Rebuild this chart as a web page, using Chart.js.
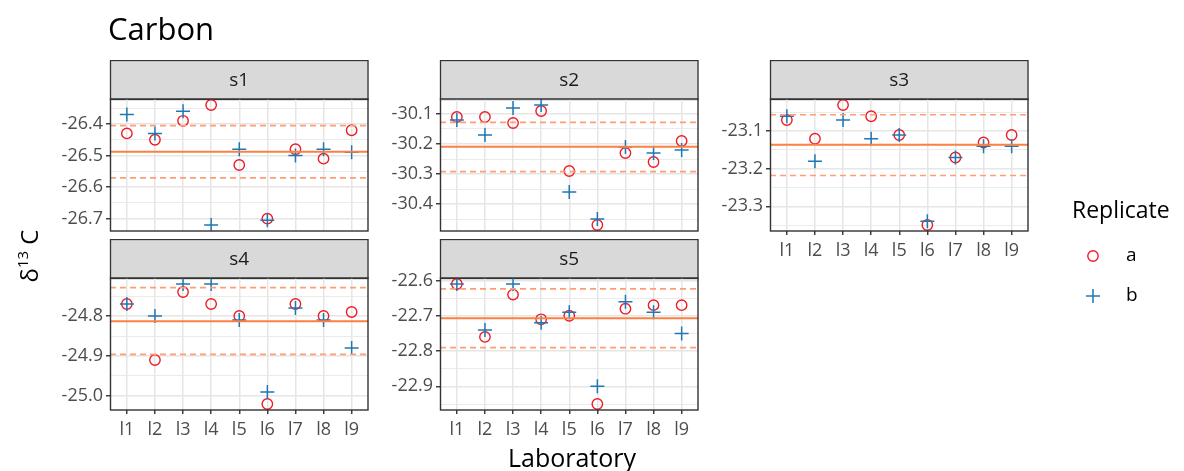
<!DOCTYPE html>
<html>
<head>
<meta charset="utf-8">
<script src="https://cdn.jsdelivr.net/npm/chart.js@4/dist/chart.umd.min.js"></script>
<style>
  body { margin: 0; background: #fff; width: 1184px; height: 471px; position: relative; overflow: hidden; }
  canvas { position: absolute; }
</style>
</head>
<body>
<canvas id="bg" width="1184" height="471" style="left:0;top:0"></canvas>
<script>
// laboratories on the x axis
const labs = ['l1', 'l2', 'l3', 'l4', 'l5', 'l6', 'l7', 'l8', 'l9'];
const samples = ['s1', 's2', 's3', 's4', 's5'];

// replicate a (red circles) per sample
const s1a = [-26.43, -26.45, -26.39, -26.34, -26.53, -26.70, -26.48, -26.51, -26.42];
const s2a = [-30.11, -30.11, -30.13, -30.09, -30.29, -30.47, -30.23, -30.26, -30.19];
const s3a = [-23.07, -23.12, -23.03, -23.06, -23.11, -23.35, -23.17, -23.13, -23.11];
const s4a = [-24.77, -24.91, -24.74, -24.77, -24.80, -25.02, -24.77, -24.80, -24.79];
const s5a = [-22.61, -22.76, -22.64, -22.71, -22.70, -22.95, -22.68, -22.67, -22.67];

// replicate b (blue crosses)
const s1b = [-26.37, -26.43, -26.36, -26.72, -26.48, -26.705, -26.50, -26.48, -26.49];
const s2b = [-30.12, -30.17, -30.08, -30.07, -30.36, -30.45, -30.21, -30.23, -30.22];
const s3b = [-23.06, -23.18, -23.07, -23.12, -23.11, -23.34, -23.17, -23.14, -23.14];
const s4b = [-24.77, -24.80, -24.72, -24.72, -24.81, -24.99, -24.78, -24.81, -24.88];
const s5b = [-22.61, -22.74, -22.61, -22.72, -22.69, -22.90, -22.66, -22.69, -22.75];

// reference value and limits per sample
const means = [-26.488, -30.209, -23.136, -24.813, -22.707];
const upper = [-26.405, -30.128, -23.056, -24.729, -22.624];
const lower = [-26.571, -30.292, -23.218, -24.896, -22.790];

const A = [s1a, s2a, s3a, s4a, s5a];
const B = [s1b, s2b, s3b, s4b, s5b];

const FONT = '"Open Sans", "Noto Sans", sans-serif';
const PW = 263, PH = 132, STRIP = 39, YW = 70;
const XMIN = 0.4, XMAX = 9.6;
const RED = '#ee1c25', BLUE = '#1f77b4';

const isMajor = v => Math.abs(v * 10 - Math.round(v * 10)) < 1e-6;

const deco = {
  id: 'deco',
  beforeDraw(ch) {
    const { ctx, chartArea: c } = ch;
    ctx.save();
    ctx.fillStyle = '#fff';
    ctx.fillRect(c.left, c.top, c.width, c.height);
    ctx.fillStyle = '#d9d9d9';
    ctx.fillRect(c.left, c.top - STRIP, c.width, STRIP);
    ctx.strokeStyle = '#333';
    ctx.lineWidth = 1.3;
    ctx.strokeRect(c.left + 0.5, c.top - STRIP + 0.5, c.width - 1, STRIP);
    ctx.fillStyle = '#1a1a1a';
    ctx.font = '19px ' + FONT;
    ctx.textAlign = 'center';
    ctx.textBaseline = 'middle';
    ctx.fillText(ch.options.plugins.deco.name, (c.left + c.right) / 2, c.top - STRIP / 2 + 1);
    ctx.restore();
  },
  afterDraw(ch) {
    const { ctx, chartArea: c } = ch;
    ctx.save();
    ctx.strokeStyle = '#333';
    ctx.lineWidth = 1.4;
    ctx.strokeRect(c.left + 0.5, c.top, c.width - 1, c.height);
    ctx.restore();
  }
};

function panel(k, left, top, showX) {
  const cv = document.createElement('canvas');
  const bottomPad = showX ? 0 : 16;
  cv.width = YW + PW + 4;
  cv.height = STRIP + PH + (showX ? 34 : bottomPad);
  cv.style.left = (left - YW) + 'px';
  cv.style.top = top + 'px';
  document.body.appendChild(cv);

  const a = A[k], b = B[k];
  const all = a.concat(b, [means[k], upper[k], lower[k]]);
  const mn = Math.min(...all), mx = Math.max(...all), pad = (mx - mn) * 0.05;
  const pts = arr => arr.map((v, i) => ({ x: i + 1, y: v }));
  const hline = v => [{ x: XMIN, y: v }, { x: XMAX, y: v }];

  new Chart(cv, {
    type: 'scatter',
    data: {
      datasets: [
        { type: 'line', data: hline(means[k]), borderColor: '#fb8042', borderWidth: 2, pointRadius: 0, order: 0 },
        { type: 'line', data: hline(upper[k]), borderColor: '#ff9e76', borderWidth: 1.7, borderDash: [6, 4], pointRadius: 0, order: 0 },
        { type: 'line', data: hline(lower[k]), borderColor: '#ff9e76', borderWidth: 1.7, borderDash: [6, 4], pointRadius: 0, order: 0 },
        { label: 'b', data: pts(b), pointStyle: 'cross', pointRadius: 7, pointBorderColor: BLUE, pointBorderWidth: 1.5, order: 1 },
        { label: 'a', data: pts(a), pointStyle: 'circle', pointRadius: 5.2, pointBorderColor: RED, pointBackgroundColor: 'rgba(0,0,0,0)', pointBorderWidth: 1.4, order: 2 }
      ]
    },
    options: {
      responsive: false,
      animation: false,
      devicePixelRatio: 1,
      layout: { padding: { top: STRIP, right: 4, bottom: bottomPad, left: 0 } },
      plugins: { legend: { display: false }, tooltip: { enabled: false }, deco: { name: samples[k] } },
      scales: {
        x: {
          type: 'linear', min: XMIN, max: XMAX,
          afterBuildTicks: s => { s.ticks = labs.map((l, i) => ({ value: i + 1 })); },
          afterFit: s => { s.height = showX ? 34 : 0; },
          ticks: { display: showX, autoSkip: false, maxRotation: 0, padding: 5, color: '#4d4d4d', font: { family: FONT, size: 18 }, callback: (v, i) => labs[i] },
          grid: { color: '#e6e6e6', lineWidth: 1.5, drawTicks: showX, tickLength: 4, tickColor: '#333', tickWidth: 1.4 },
          border: { display: false }
        },
        y: {
          min: mn - pad, max: mx + pad,
          afterBuildTicks: s => {
            const t = [];
            for (let i = Math.ceil(s.min / 0.05 - 1e-9); i <= Math.floor(s.max / 0.05 + 1e-9); i++) t.push({ value: +(i * 0.05).toFixed(2) });
            s.ticks = t;
          },
          afterFit: s => { s.width = YW; },
          ticks: { autoSkip: false, padding: 3, color: '#4d4d4d', font: { family: FONT, size: 18 }, callback: v => isMajor(v) ? v.toFixed(1) : '' },
          grid: {
            color: '#e6e6e6',
            lineWidth: c => isMajor(c.tick.value) ? 1.5 : 0.8,
            tickColor: c => isMajor(c.tick.value) ? '#333' : 'rgba(0,0,0,0)',
            tickLength: 4, tickWidth: 1.4
          },
          border: { display: false }
        }
      }
    },
    plugins: [deco]
  });
}

panel(0, 110, 60, false);
panel(1, 440, 60, false);
panel(2, 770, 60, true);
panel(3, 110, 239, true);
panel(4, 440, 239, true);

// titles and legend
const g = document.getElementById('bg').getContext('2d');
g.fillStyle = '#000';
g.font = '31px ' + FONT;
g.textBaseline = 'alphabetic';
g.fillText('Carbon', 108, 40);

g.font = '25px ' + FONT;
g.textAlign = 'center';
g.fillText('Laboratory', 572, 467);

// y axis title: delta 13 C
g.save();
g.translate(38, 256);
g.rotate(-Math.PI / 2);
g.textAlign = 'left';
g.font = '24px ' + FONT;
const wD = g.measureText('\u03b4').width;
const wC = g.measureText(' C').width;
g.font = '15px ' + FONT;
const w13 = g.measureText('13').width;
let x0 = -(wD + w13 + wC) / 2;
g.font = '24px ' + FONT;
g.fillText('\u03b4', x0, 0);
g.font = '15px ' + FONT;
g.fillText('13', x0 + wD, -10);
g.font = '24px ' + FONT;
g.fillText(' C', x0 + wD + w13, 0);
g.restore();

// legend
g.textAlign = 'left';
g.font = '23px ' + FONT;
g.fillText('Replicate', 1072, 218);
g.font = '19px ' + FONT;
g.textBaseline = 'middle';
g.fillText('a', 1126, 256);
g.fillText('b', 1126, 296);
g.strokeStyle = RED;
g.lineWidth = 1.4;
g.beginPath();
g.arc(1093, 256, 5.2, 0, Math.PI * 2);
g.stroke();
g.strokeStyle = BLUE;
g.lineWidth = 1.5;
g.beginPath();
g.moveTo(1086, 296); g.lineTo(1100, 296);
g.moveTo(1093, 289); g.lineTo(1093, 303);
g.stroke();
</script>
</body>
</html>
